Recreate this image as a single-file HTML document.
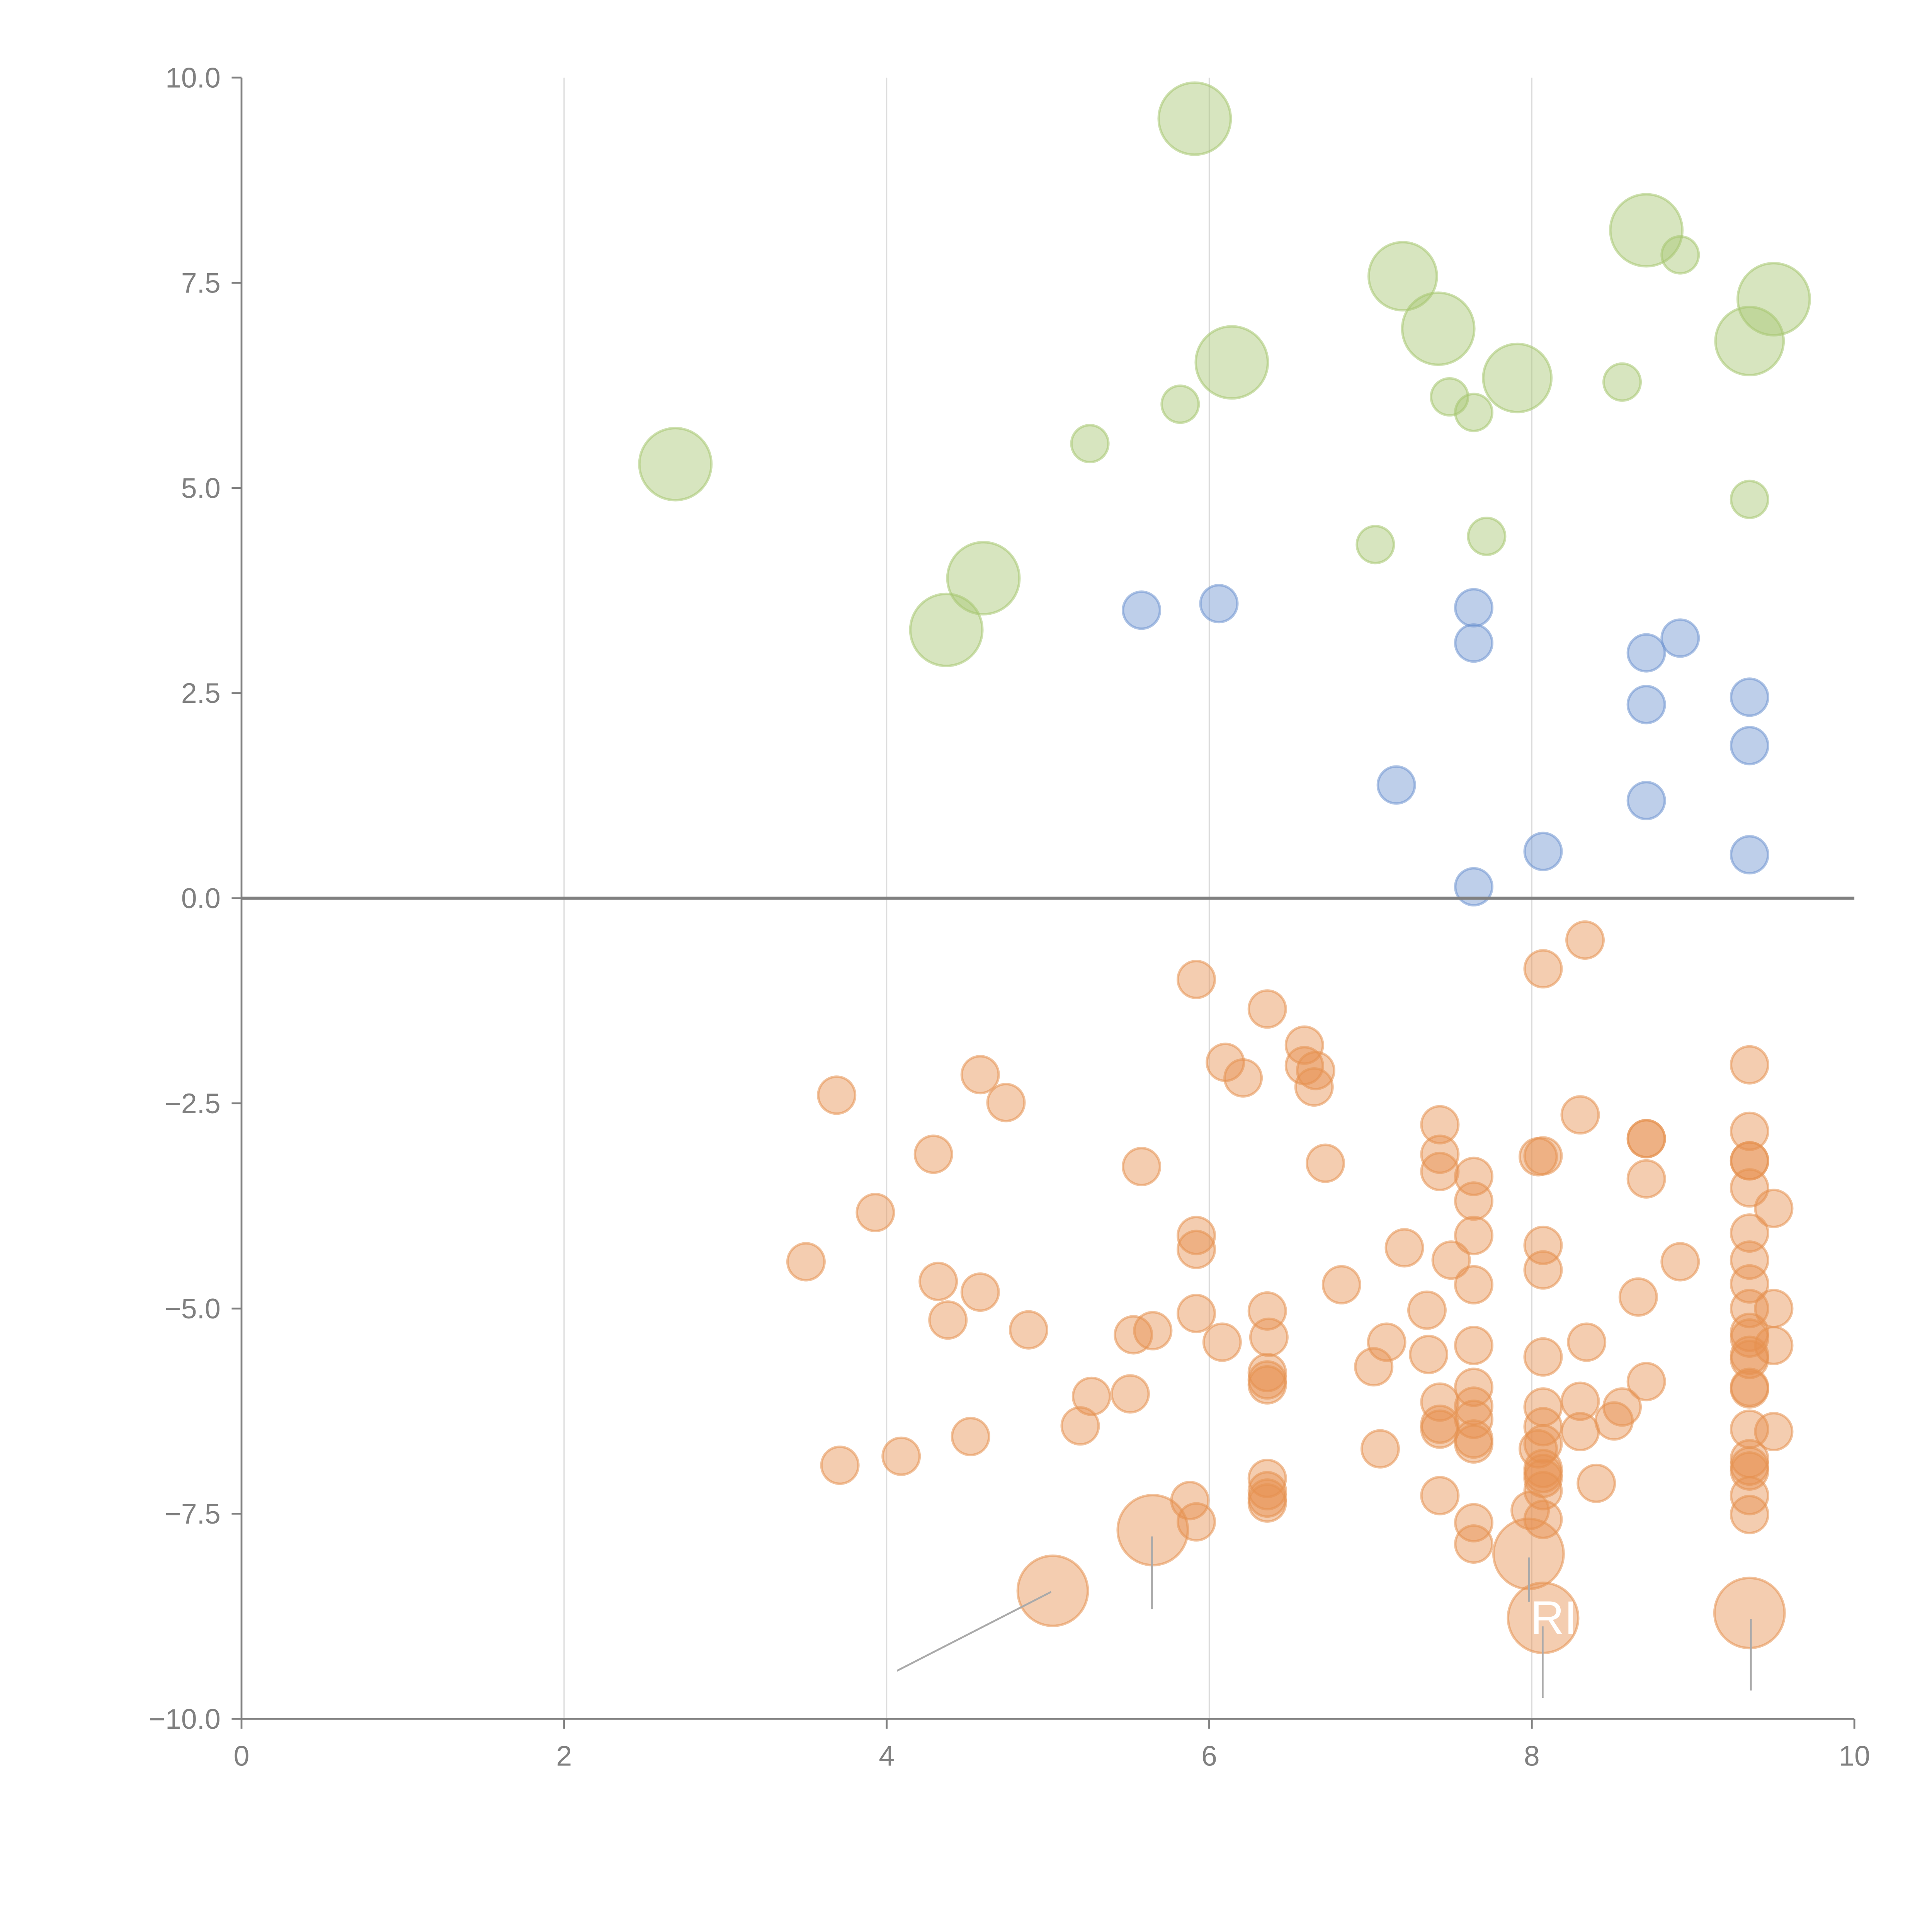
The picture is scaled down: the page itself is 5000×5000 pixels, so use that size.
<!DOCTYPE html>
<html><head><meta charset="utf-8"><style>
html,body{margin:0;padding:0;background:#fff;}
svg{display:block;}
text{font-family:"Liberation Sans",sans-serif;fill:#808080;}
</style></head><body>
<svg id="chart" width="5000" height="5000" viewBox="0 0 1568 1568" xmlns="http://www.w3.org/2000/svg">
<g id="grid"></g>
<g id="marks"></g>
<g id="axes"></g>
<g id="annot"></g>
</svg>
<script>
const xTicks=[0,2,4,6,8,10];
const yTicks=[-10,-7.5,-5,-2.5,0,2.5,5,7.5,10];
const yTickLabels=["\u221210.0","\u22127.5","\u22125.0","\u22122.5","0.0","2.5","5.0","7.5","10.0"];
const greenX=[5.91,8.71,8.92,7.20,9.50,7.42,9.35,6.14,7.91,8.56,7.49,7.64,5.82,5.26,2.69,9.35,7.03,7.72,4.60,4.37];
const greenY=[9.50,8.14,7.84,7.58,7.30,6.94,6.79,6.53,6.34,6.29,6.11,5.92,6.02,5.54,5.29,4.86,4.31,4.41,3.90,3.27];
const greenS=[3.8,3.8,1,3.4,3.8,3.8,3.4,3.8,3.4,1,1,1,1,1,3.8,1,1,1,3.8,3.8];
const blueX=[5.58,6.06,7.64,7.64,8.71,8.92,8.71,9.35,9.35,7.16,8.71,8.07,9.35,7.64];
const blueY=[3.51,3.59,3.54,3.11,2.99,3.17,2.36,2.45,1.86,1.38,1.19,0.57,0.53,0.14];
const orangeX=[5.92,6.36,8.33,8.07,6.59,6.10,6.21,6.59,6.66,6.65,4.58,3.69,4.74,9.35,8.30,8.71,8.71,7.43,7.43,7.43,4.29,5.58,6.72,8.04,8.07,7.64,9.35,9.35,9.35,8.71,9.35,7.64,3.93,9.50,9.35,5.92,5.92,7.64,8.07,7.21,3.50,7.50,8.92,9.35,8.07,4.32,9.35,6.82,7.64,4.58,8.66,7.35,6.36,5.92,9.35,9.50,4.38,4.88,9.35,5.53,5.65,6.37,6.08,7.10,7.64,8.34,9.35,9.50,8.07,7.36,9.35,9.35,7.02,6.36,6.36,6.36,8.71,9.35,9.35,5.27,5.51,7.43,7.64,8.30,8.56,8.07,7.64,7.64,7.43,7.43,8.51,8.07,8.30,9.50,9.35,5.20,4.52,7.64,7.64,8.07,8.04,7.06,3.71,4.09,9.35,9.35,9.35,8.07,8.07,8.07,6.36,6.36,6.36,6.36,8.40,8.07,7.43,9.35,5.88,7.99,5.92,8.07,7.64,9.35,7.64,5.65,5.03,7.98,8.07,9.35];
const orangeY=[-0.99,-1.35,-0.51,-0.86,-1.79,-2.00,-2.19,-2.04,-2.10,-2.30,-2.15,-2.40,-2.49,-2.03,-2.64,-2.93,-2.93,-2.76,-3.12,-3.33,-3.12,-3.27,-3.23,-3.15,-3.14,-3.39,-2.84,-3.20,-3.20,-3.42,-3.53,-3.69,-3.83,-3.78,-4.08,-4.11,-4.28,-4.11,-4.23,-4.26,-4.43,-4.41,-4.43,-4.41,-4.53,-4.67,-4.70,-4.71,-4.71,-4.80,-4.86,-5.02,-5.03,-5.06,-5.00,-5.00,-5.14,-5.26,-5.29,-5.32,-5.27,-5.35,-5.41,-5.41,-5.45,-5.41,-5.36,-5.45,-5.59,-5.56,-5.57,-5.62,-5.71,-5.78,-5.87,-5.93,-5.89,-5.96,-5.98,-6.07,-6.04,-6.14,-5.96,-6.13,-6.20,-6.20,-6.19,-6.35,-6.47,-6.41,-6.37,-6.44,-6.50,-6.50,-6.47,-6.43,-6.56,-6.59,-6.65,-6.65,-6.71,-6.71,-6.91,-6.80,-6.83,-6.92,-6.98,-6.95,-7.01,-7.07,-7.07,-7.22,-7.31,-7.37,-7.13,-7.22,-7.28,-7.28,-7.34,-7.46,-7.60,-7.57,-7.61,-7.51,-7.87,-7.70,-8.44,-7.99,-8.77,-8.71];
const NS="http://www.w3.org/2000/svg";
const X0=196,X1=1505,Y0=1395,Y1=63;
function sx(v){return X0+(v-0)/(10-0)*(X1-X0);}
function sy(v){return Y0-(v+10)/20*(Y0-Y1);}
function rad(s){return 15*Math.sqrt(s);}
function mk(tag,attrs,parent){const e=document.createElementNS(NS,tag);for(const k in attrs)e.setAttribute(k,attrs[k]);parent.appendChild(e);return e;}
const grid=document.getElementById('grid'),marks=document.getElementById('marks'),axes=document.getElementById('axes'),annot=document.getElementById('annot');
[2,4,6,8].forEach(v=>{
 const l=mk('line',{x1:sx(v),x2:sx(v),y1:sy(10),y2:sy(-10),stroke:'#dcdcdc','stroke-width':1},grid);
 
 
});
function bubble(x,y,s,fill,name){
 const c=mk('circle',{cx:sx(x),cy:sy(y),r:rad(s),fill:fill,'fill-opacity':0.45,stroke:fill,'stroke-opacity':0.55,'stroke-width':2},marks);
 
 
}
greenX.forEach((x,i)=>bubble(x,greenY[i],greenS[i],'rgb(166,198,112)','green-bubble'));
blueX.forEach((x,i)=>bubble(x,blueY[i],1,'rgb(110,148,208)','blue-bubble'));
orangeX.forEach((x,i)=>bubble(x,orangeY[i],orangeX.length-i<=5?3.6:1,'rgb(230,145,80)','orange-bubble'));
let a=mk('line',{x1:X0,x2:X0,y1:Y1,y2:Y0,stroke:'#808080','stroke-width':1.5},axes);


a=mk('line',{x1:X0,x2:X1,y1:Y0,y2:Y0,stroke:'#808080','stroke-width':1.5},axes);


a=mk('line',{x1:X0,x2:X1,y1:sy(0),y2:sy(0),stroke:'#808080','stroke-width':2.5},axes);


yTicks.forEach((v,i)=>{
 const t=mk('line',{x1:X0-8,x2:X0,y1:sy(v),y2:sy(v),stroke:'#808080','stroke-width':1.5},axes);
 
 
 const tx=mk('text',{x:X0-17,y:sy(v)+8,'text-anchor':'end','font-size':23},axes);
 tx.textContent=yTickLabels[i];
 
 
});
xTicks.forEach(v=>{
 const t=mk('line',{x1:sx(v),x2:sx(v),y1:Y0,y2:Y0+8,stroke:'#808080','stroke-width':1.5},axes);
 
 
 const tx=mk('text',{x:sx(v),y:Y0+38,'text-anchor':'middle','font-size':23},axes);
 tx.textContent=String(v);
 
 
});
[[728,1356,853,1292],[935,1247,935,1306],[1241,1264,1241,1300],[1252,1320,1252,1378],[1421,1314,1421,1372]].forEach(p=>{
 const l=mk('line',{x1:p[0],y1:p[1],x2:p[2],y2:p[3],stroke:'#aaaaaa','stroke-width':1.5},annot);
 
 
});
const lab=mk('text',{x:1242,y:1326,'font-size':38,style:'fill:#ffffff'},annot);
lab.textContent='RI';


</script>
</body></html>
